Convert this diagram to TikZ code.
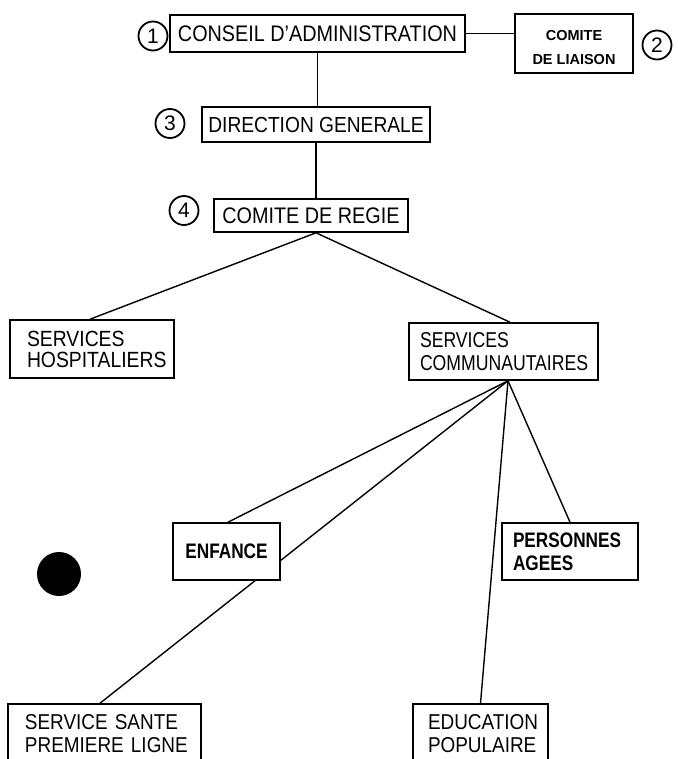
\documentclass[tikz,border=0pt]{standalone}
\usepackage{fontspec}
\setmainfont{Liberation Sans}
\newfontfamily\tw{Liberation Sans}[FakeStretch=0.88]
\newfontfamily\twn{Liberation Sans}[FakeStretch=0.82]
\newfontfamily\twb{Liberation Sans}[FakeStretch=0.82]
\usetikzlibrary{backgrounds}
\begin{document}
\begin{tikzpicture}[x=1pt,y=-1pt,
  box/.style={draw, line width=1.6pt, fill=white, inner sep=0pt},
  mlbox/.style={box, align=left, inner ysep=0pt},
  conn/.style={line width=1.4pt},
  num/.style={draw, circle, line width=1.8pt, minimum size=29pt, inner sep=0pt, font=\fontsize{21}{21}\selectfont},
  reg/.style={font=\tw\fontsize{22.5}{24}\selectfont},
  regml/.style={font=\tw\fontsize{21.5}{23}\selectfont},
  bld/.style={font=\twb\bfseries\fontsize{21}{23}\selectfont}]
\useasboundingbox (0,0) rectangle (677,759);
\clip (0,0) rectangle (677,759);

% top boxes
\node[box, reg, minimum width=295pt, minimum height=37pt] (conseil) at (317.5,33.5) {CONSEIL D’ADMINISTRATION};
\node[box, minimum width=118pt, minimum height=59pt] (liaison) at (574,43.5) {};
\node[align=center, inner sep=0pt, font=\bfseries\fontsize{14.5}{24}\selectfont] (liaisontext) at (574,48) {COMITE\\DE LIAISON};
\node[box, minimum width=228pt, minimum height=35pt, font=\tw\fontsize{21.8}{24}\selectfont] (direction) at (316,124.5) {DIRECTION GENERALE};
\node[box, reg, minimum width=194pt, minimum height=33pt] (regie) at (311,215.5) {COMITE DE REGIE};

% numbered circles
\node[num] (n1) at (153,36) {1};
\node[num] (n2) at (657,45) {2};
\node[num] (n3) at (170,123.5) {3};
\node[num] (n4) at (184,210.5) {4};

% services
\node[mlbox, text width=130pt, inner xsep=17pt, minimum height=58pt, font=\tw\fontsize{22}{21}\selectfont] (hosp) at (92,349) {SERVICES\\HOSPITALIERS};
\node[mlbox, text width=167pt, inner xsep=11pt, minimum height=57pt, font=\twn\fontsize{21.5}{23}\selectfont] (comm) at (503.5,351.5) {SERVICES\\COMMUNAUTAIRES};

% lower boxes
\node[box, bld, minimum width=107pt, minimum height=57pt] (enfance) at (226.5,551.5) {ENFANCE};
\node[mlbox, bld, text width=114pt, inner xsep=11pt, minimum height=57pt] (personnes) at (570,551.5) {PERSONNES\\AGEES};
\node[mlbox, regml, text width=185pt, inner xsep=4pt, minimum height=60pt] (sante) at (104.5,734) {\hspace*{13pt}SERVICE SANTE\\\hspace*{13pt}PREMIERE LIGNE};
\node[mlbox, regml, text width=125pt, inner xsep=5pt, minimum height=60pt] (education) at (480.5,734) {\hspace*{10pt}EDUCATION\\\hspace*{10pt}POPULAIRE};

% black dot
\node[circle, fill=black, minimum size=44pt, inner sep=0pt] (dot) at (59,574) {};

\begin{pgfonlayer}{background}
  \fill[white] (0,0) rectangle (677,759);
  \draw[conn] (conseil.east) -- (conseil.east -| liaison.west);
  \draw[conn] (conseil.south) -- (conseil.south |- direction.north);
  \draw[conn] (direction.south) -- (direction.south |- regie.north);
  \coordinate (apexa) at (direction.south |- regie.south);
  \draw[conn] (apexa) -- ([xshift=-2pt]hosp.north);
  \draw[conn] (apexa) -- ([xshift=6.5pt]comm.north);
  \coordinate (apexb) at ([xshift=4.5pt]comm.south);
  \draw[conn] (apexb) -- ([xshift=1.5pt]enfance.north);
  \draw[conn] (apexb) -- ([xshift=-4.5pt]sante.north);
  \draw[conn] (apexb) -- (education.north);
  \draw[conn] (apexb) -- (personnes.north);
\end{pgfonlayer}
\end{tikzpicture}
\end{document}
